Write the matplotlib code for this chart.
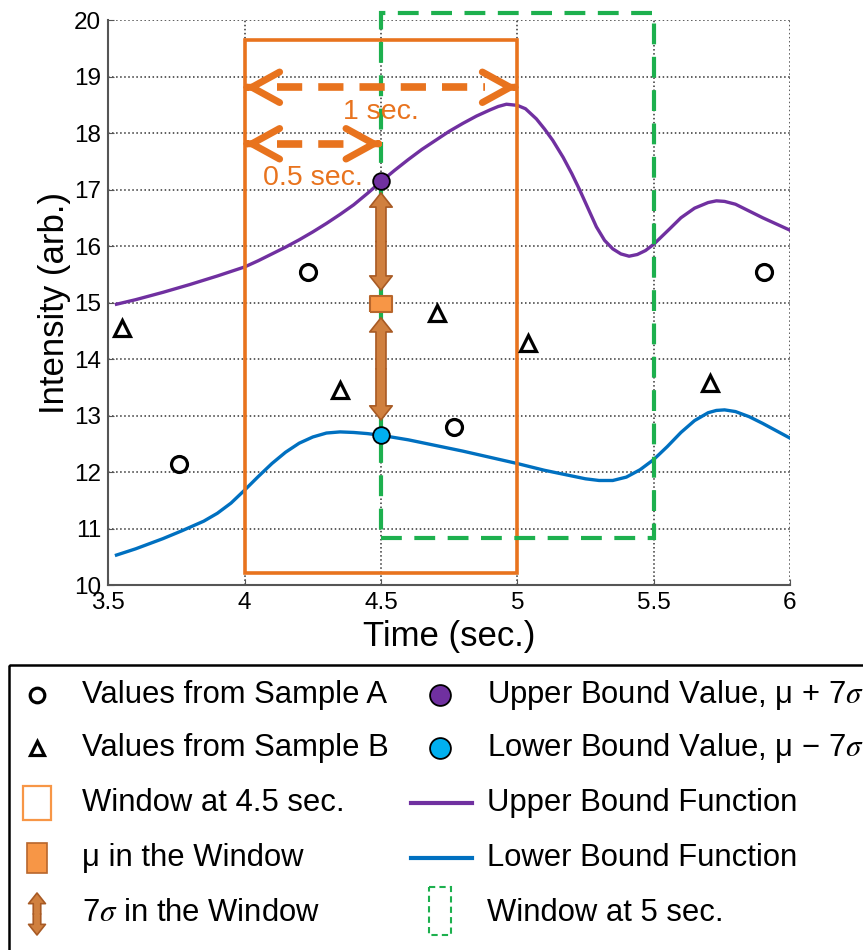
import matplotlib.pyplot as plt
from matplotlib.patches import Rectangle, FancyArrowPatch
from matplotlib.ticker import FormatStrFormatter

plt.rcParams['font.family'] = ['Liberation Sans', 'DejaVu Sans']
plt.rcParams['mathtext.fontset'] = 'stix'

# values
sample_a_t = [3.76, 4.234, 4.766, 5.905]
sample_a_v = [12.14, 15.54, 12.80, 15.54]
sample_b_t = [3.551, 4.348, 4.704, 5.038, 5.706]
sample_b_v = [14.55, 13.45, 14.81, 14.28, 13.58]

upper_t = [3.53, 3.6, 3.7, 3.8, 3.9, 4.0, 4.05, 4.1, 4.15, 4.2, 4.25, 4.3, 4.35, 4.4,
           4.45, 4.5, 4.55, 4.6, 4.65, 4.7, 4.75, 4.8, 4.85, 4.9, 4.93, 4.96, 5.0,
           5.03, 5.07, 5.1, 5.13, 5.168, 5.2, 5.23, 5.26, 5.29, 5.32, 5.35, 5.38,
           5.41, 5.44, 5.47, 5.5, 5.53, 5.56, 5.6, 5.65, 5.7, 5.73, 5.76, 5.8, 5.85,
           5.9, 5.95, 6.0]
upper_v = [14.97, 15.05, 15.18, 15.32, 15.47, 15.63, 15.74, 15.86, 15.98, 16.11,
           16.25, 16.40, 16.56, 16.73, 16.93, 17.14, 17.34, 17.53, 17.71, 17.87,
           18.03, 18.17, 18.30, 18.41, 18.47, 18.51, 18.49, 18.43, 18.25, 18.07,
           17.87, 17.57, 17.28, 16.98, 16.66, 16.34, 16.10, 15.95, 15.86, 15.82,
           15.85, 15.92, 16.03, 16.17, 16.31, 16.50, 16.67, 16.77, 16.80, 16.79,
           16.74, 16.62, 16.50, 16.39, 16.28]

lower_t = [3.53, 3.6, 3.7, 3.77, 3.85, 3.9, 3.95, 4.0, 4.05, 4.1, 4.15, 4.2, 4.25,
           4.3, 4.35, 4.4, 4.45, 4.5, 4.6, 4.7, 4.8, 4.9, 5.0, 5.1, 5.2, 5.25, 5.3,
           5.35, 5.4, 5.45, 5.5, 5.55, 5.6, 5.65, 5.7, 5.73, 5.76, 5.8, 5.85, 5.9,
           5.95, 6.0]
lower_v = [10.53, 10.64, 10.82, 10.96, 11.13, 11.27, 11.45, 11.68, 11.92, 12.15,
           12.35, 12.51, 12.62, 12.69, 12.71, 12.70, 12.68, 12.65, 12.57, 12.47,
           12.37, 12.26, 12.15, 12.03, 11.93, 11.88, 11.85, 11.85, 11.91, 12.04,
           12.22, 12.45, 12.70, 12.91, 13.05, 13.09, 13.10, 13.07, 12.98, 12.86,
           12.73, 12.60]

t_now = 4.5
mu_value = 14.97
upper_value = 17.15
lower_value = 12.65
sigma_up_span = [15.22, 16.94]
sigma_down_span = [14.73, 12.92]

window_a_t = [4.0, 5.0]
window_a_v = [10.21, 19.65]
window_b_t = [4.5, 5.5]
window_b_v = [10.83, 20.13]

span_1s = [4.0, 5.0, 18.81]
span_05s = [4.0, 4.5, 17.81]

col1_labels = ['Values from Sample A', 'Values from Sample B', 'Window at 4.5 sec.',
               'μ in the Window', '7$\\sigma$ in the Window']
col2_labels = ['Upper Bound Value, μ + 7$\\sigma$', 'Lower Bound Value, μ − 7$\\sigma$',
               'Upper Bound Function', 'Lower Bound Function', 'Window at 5 sec.']

ORANGE = '#E8731E'
MU_FILL = '#F79646'
MU_EDGE = '#B8662C'
ARROW_FILL = '#D0803F'
ARROW_EDGE = '#A85A24'
PURPLE = '#7030A0'
BLUE = '#0070C0'
CYAN = '#00B0F0'
GREEN = '#1DB04E'

fig = plt.figure(figsize=(8.63, 9.5), dpi=100)

# legend drawn in pixel coordinates
lg = fig.add_axes([0, 0, 1, 1])
lg.set_xlim(0, 863)
lg.set_ylim(950, 0)
lg.set_axis_off()

ax = fig.add_axes([0.1255, 0.3842, 0.7899, 0.5947])
ax.set_xlim(3.5, 6)
ax.set_ylim(10, 20)
ax.set_xticks([3.5, 4, 4.5, 5, 5.5, 6])
ax.set_yticks(range(10, 21))
ax.xaxis.set_major_formatter(FormatStrFormatter('%g'))
ax.grid(True, linestyle=':', color='#333333', linewidth=1.1)
ax.set_axisbelow(True)
for s in ['top', 'right']:
    ax.spines[s].set_visible(False)
for s in ['left', 'bottom']:
    ax.spines[s].set_color('#555555')
    ax.spines[s].set_linewidth(1.5)
ax.tick_params(direction='in', length=4, color='#555555', labelsize=17.5, pad=5)
ax.set_xlabel('Time (sec.)', fontsize=25, labelpad=4)
ax.set_ylabel('Intensity (arb.)', fontsize=25, labelpad=2)

# curves
ax.plot(upper_t, upper_v, color=PURPLE, lw=2.4, zorder=3)
ax.plot(lower_t, lower_v, color=BLUE, lw=2.4, zorder=3)

# windows
ax.add_patch(Rectangle((window_a_t[0], window_a_v[0]), window_a_t[1] - window_a_t[0],
                       window_a_v[1] - window_a_v[0], fill=False, edgecolor=ORANGE,
                       lw=2.6, zorder=4))
ax.add_patch(Rectangle((window_b_t[0], window_b_v[0]), window_b_t[1] - window_b_t[0],
                       window_b_v[1] - window_b_v[0], fill=False, edgecolor=GREEN,
                       lw=3, linestyle=(0, (5, 3)), zorder=4, clip_on=False))


def dashed_span(x0, x1, y):
    ax.plot([x0 + 0.12, x1 - 0.12], [y, y], color=ORANGE, lw=5.5,
            linestyle=(0, (3.3, 2.1)), dash_capstyle='butt', zorder=5)
    for tip, back in [(x0, x0 + 0.01), (x1, x1 - 0.01)]:
        ax.annotate('', xy=(tip, y), xytext=(back, y), zorder=5,
                    arrowprops=dict(arrowstyle='->,head_length=1.0,head_width=0.55',
                                    lw=5, color=ORANGE, mutation_scale=20,
                                    shrinkA=0, shrinkB=0))


dashed_span(*span_1s)
dashed_span(*span_05s)
ax.text(4.5, 18.37, '1 sec.', color=ORANGE, fontsize=20.5, ha='center', va='center', zorder=6)
ax.text(4.25, 17.2, '0.5 sec.', color=ORANGE, fontsize=20.5, ha='center', va='center', zorder=6)


def block_arrow(axes, x, span, scale=12, gap=0.08):
    mid = (span[0] + span[1]) / 2
    for end in span:
        axes.add_patch(FancyArrowPatch(
            (x, mid), (x, end),
            arrowstyle='simple,head_length=0.85,head_width=1.35,tail_width=0.6',
            mutation_scale=scale, facecolor=ARROW_FILL, edgecolor=ARROW_EDGE,
            lw=1.2, shrinkA=0, shrinkB=0, zorder=6))
    # hide the seam where the two halves meet
    axes.plot([x, x], [mid - gap, mid + gap], color=ARROW_FILL,
              lw=scale * 0.6 - 1.4, solid_capstyle='butt', zorder=6.5)


block_arrow(ax, t_now, sigma_up_span)
block_arrow(ax, t_now, sigma_down_span)

# samples
ax.plot(sample_a_t, sample_a_v, 'o', ms=11.5, mfc='white', mec='black', mew=2.3, zorder=7)
ax.plot(sample_b_t, sample_b_v, '^', ms=11, mfc='white', mec='black', mew=2.3, zorder=7)

# mean and bounds at 4.5 s
rect_marker = [(-1, -0.7), (1, -0.7), (1, 0.7), (-1, 0.7), (-1, -0.7)]
ax.plot([t_now], [mu_value], marker=rect_marker, ms=16, mfc=MU_FILL, mec=MU_EDGE,
        mew=1.5, ls='none', zorder=8)
ax.plot([t_now], [upper_value], 'o', ms=12, mfc=PURPLE, mec='black', mew=1.3, zorder=8)
ax.plot([t_now], [lower_value], 'o', ms=12, mfc=CYAN, mec='black', mew=1.3, zorder=8)

# legend box
lg.add_patch(Rectangle((9, 665), 900, 400, fill=False, edgecolor='black', lw=1.8))
row_y = [695, 748, 803, 858, 913]
c1x, c1t = 37, 82
c2x, c2t = 440, 487
for y, lab in zip(row_y, col1_labels):
    lg.text(c1t, y, lab, fontsize=22.3, va='center', ha='left')
for y, lab in zip(row_y, col2_labels):
    lg.text(c2t, y, lab, fontsize=22.3, va='center', ha='left')

lg.plot([c1x], [row_y[0]], 'o', ms=10.5, mfc='white', mec='black', mew=2.3)
lg.plot([c1x], [row_y[1]], '^', ms=10.5, mfc='white', mec='black', mew=2.3)
lg.add_patch(Rectangle((c1x - 14, row_y[2] - 17), 28, 34, fill=False,
                       edgecolor=MU_FILL, lw=1.6))
lg.add_patch(Rectangle((c1x - 10, row_y[3] - 15), 20, 30, facecolor=MU_FILL,
                       edgecolor=MU_EDGE, lw=1.2))
block_arrow(lg, c1x, [row_y[4] - 20, row_y[4] + 22], scale=9, gap=2)

lg.plot([c2x], [row_y[0]], 'o', ms=15, mfc=PURPLE, mec='black', mew=1.3)
lg.plot([c2x], [row_y[1]], 'o', ms=15, mfc=CYAN, mec='black', mew=1.3)
lg.plot([c2x - 29, c2x + 32], [row_y[2], row_y[2]], color=PURPLE, lw=3)
lg.plot([c2x - 29, c2x + 32], [row_y[3], row_y[3]], color=BLUE, lw=3)
lg.add_patch(Rectangle((c2x - 11, row_y[4] - 26), 22, 48, fill=False,
                       edgecolor=GREEN, lw=1.5, linestyle=(0, (3, 2))))

fig.savefig('out.png', dpi=100)
